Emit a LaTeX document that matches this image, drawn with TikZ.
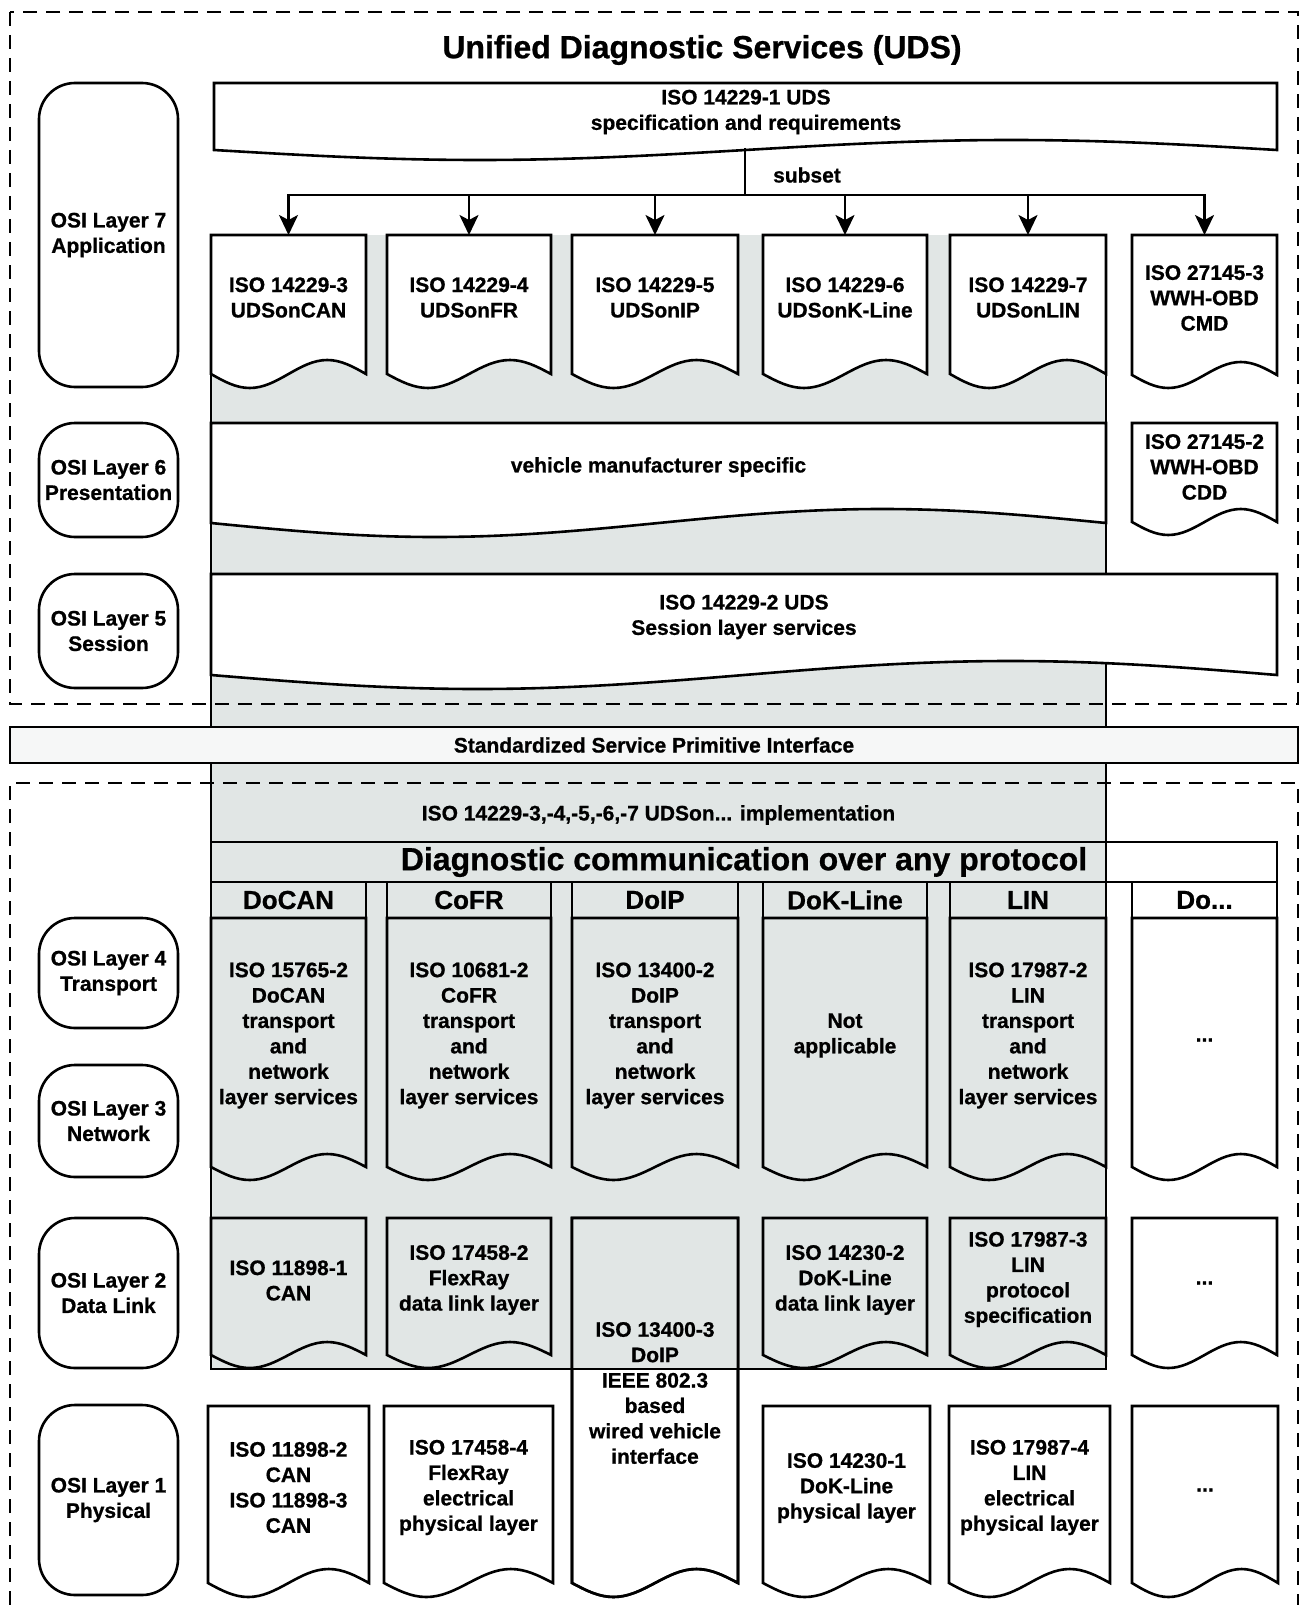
\documentclass[tikz,border=0pt]{standalone}
\usepackage{fontspec}
\setmainfont{Liberation Sans}[BoldFeatures={FakeBold=0.8}]
\usetikzlibrary{arrows.meta, positioning}

\definecolor{udsgrey}{HTML}{E1E6E5}
\definecolor{bandgrey}{HTML}{F6F7F7}

\newcommand{\udsfont}{\fontsize{21}{25.4}\selectfont\bfseries}

% document shape with wavy bottom: style, x1, x2, top, side end, amplitude
\newcommand{\udsdoc}[6]{%
  \draw[#1] (#2,#4) -- (#2,#5)
    sin ({#2+(#3-#2)/4},{#5+#6}) cos ({(#2+#3)/2},#5)
    sin ({#2+3*(#3-#2)/4},{#5-#6}) cos (#3,#5) -- (#3,#4) -- cycle;
}

\tikzset{
  bline/.style={line width=2.6pt},
  whitedoc/.style={bline, fill=white},
  greydoc/.style={bline, fill=udsgrey},
  osibox/.style={draw, line width=2.6pt, rounded corners=36pt, align=center, inner sep=0pt, font=\udsfont},
  frameline/.style={line width=1.6pt, dash pattern=on 14pt off 9pt},
  bodytxt/.style={font=\udsfont, align=center, inner sep=0pt},
  headtxt/.style={font=\fontsize{26}{30}\selectfont\bfseries, inner sep=0pt},
  bigtxt/.style={font=\fontsize{32}{36}\selectfont\bfseries, inner sep=0pt},
  subarrow/.style={line width=2.4pt, -{Stealth[length=20pt, width=19pt, inset=5pt]}},
}

\begin{document}
\begin{tikzpicture}[x=1pt, y=-1pt]
  \useasboundingbox (0,0) rectangle (1301,1605);

  % grey area behind the UDSon... stack
  \fill[udsgrey] (211,235) rectangle (1106,1369);
  \draw[bline] (211,235) -- (211,1369) -- (1106,1369) -- (1106,235);

  % dashed frames
  \draw[frameline] (10,12) rectangle (1298,704);
  \draw[frameline] (10,1605) -- (10,783) -- (1298,783) -- (1298,1605);

  \node[bigtxt] (title) at (702,50) {Unified Diagnostic Services (UDS)};

  % ISO 14229-1
  \udsdoc{whitedoc}{214}{1277}{83}{150}{10}
  \node[bodytxt] (spec) at (746,112) {ISO 14229-1 UDS\\specification and requirements};

  % subset arrows
  \coordinate (stem) at (745,148);
  \coordinate (bus) at (745,195);
  \coordinate (bus-can) at (288.5,195);
  \coordinate (bus-fr) at (469,195);
  \coordinate (bus-ip) at (655,195);
  \coordinate (bus-kl) at (845,195);
  \coordinate (bus-lin) at (1028,195);
  \coordinate (bus-obd) at (1204.5,195);
  \coordinate (top-can) at (288.5,235);
  \coordinate (top-fr) at (469,235);
  \coordinate (top-ip) at (655,235);
  \coordinate (top-kl) at (845,235);
  \coordinate (top-lin) at (1028,235);
  \coordinate (top-obd) at (1204.5,235);
  \draw[bline] (stem) -- (bus);
  \draw[bline, line cap=rect] (bus-can) -- (bus-obd);
  \draw[subarrow] (bus-can) -- (top-can);
  \draw[subarrow] (bus-fr) -- (top-fr);
  \draw[subarrow] (bus-ip) -- (top-ip);
  \draw[subarrow] (bus-kl) -- (top-kl);
  \draw[subarrow] (bus-lin) -- (top-lin);
  \draw[subarrow] (bus-obd) -- (top-obd);
  \node[bodytxt] (subset) at (807,175) {subset};

  % layer 7
  \udsdoc{whitedoc}{211}{366}{235}{374}{14}
  \udsdoc{whitedoc}{387}{551}{235}{374}{14}
  \udsdoc{whitedoc}{572}{738}{235}{374}{14}
  \udsdoc{whitedoc}{763}{927}{235}{374}{14}
  \udsdoc{whitedoc}{950}{1106}{235}{374}{14}
  \udsdoc{whitedoc}{1132}{1277}{235}{375}{13}
  \node[bodytxt] (can7) at (288.5,297.5) {ISO 14229-3\\UDSonCAN};
  \node[bodytxt] (fr7) at (469,297.5) {ISO 14229-4\\UDSonFR};
  \node[bodytxt] (ip7) at (655,297.5) {ISO 14229-5\\UDSonIP};
  \node[bodytxt] (kl7) at (845,297.5) {ISO 14229-6\\UDSonK-Line};
  \node[bodytxt] (lin7) at (1028,297.5) {ISO 14229-7\\UDSonLIN};
  \node[bodytxt] (obd7) at (1204.5,298) {ISO 27145-3\\WWH-OBD\\CMD};

  % layer 6
  \udsdoc{whitedoc}{211}{1106}{423}{523}{14}
  \udsdoc{whitedoc}{1132}{1277}{423}{522}{13}
  \node[bodytxt] (vms) at (658.5,467) {vehicle manufacturer specific};
  \node[bodytxt] (obd6) at (1204.5,467) {ISO 27145-2\\WWH-OBD\\CDD};

  % layer 5
  \udsdoc{whitedoc}{211}{1277}{574}{675}{14}
  \node[bodytxt] (sess) at (744,617) {ISO 14229-2 UDS\\Session layer services};

  % service primitive interface
  \draw[line width=2.2pt, fill=bandgrey] (10,727) rectangle (1298,763);
  \node[bodytxt] (sspi) at (654,745) {Standardized Service Primitive Interface};

  \node[bodytxt] (impl) at (658.5,815) {ISO 14229-3,-4,-5,-6,-7 UDSon... implementation};

  % diagnostic communication bar
  \draw[bline, fill=white] (1106,842) rectangle (1277,882);
  \draw[bline] (211,842) rectangle (1277,882);
  \node[bigtxt] (doap) at (744,862) {Diagnostic communication over any protocol};

  % protocol heads
  \draw[greydoc] (211,882) rectangle (366,918);
  \draw[greydoc] (387,882) rectangle (551,918);
  \draw[greydoc] (572,882) rectangle (738,918);
  \draw[greydoc] (763,882) rectangle (927,918);
  \draw[greydoc] (950,882) rectangle (1106,918);
  \draw[whitedoc] (1132,882) rectangle (1277,918);
  \node[headtxt] (docan) at (288.5,900) {DoCAN};
  \node[headtxt] (cofr) at (469,900) {CoFR};
  \node[headtxt] (doip) at (655,900) {DoIP};
  \node[headtxt] (dokl) at (845,900) {DoK-Line};
  \node[headtxt] (lin) at (1028,900) {LIN};
  \node[headtxt] (doany) at (1204.5,900) {Do...};

  % layer 4 and 3
  \udsdoc{greydoc}{211}{366}{918}{1167}{13}
  \udsdoc{greydoc}{387}{551}{918}{1167}{13}
  \udsdoc{greydoc}{572}{738}{918}{1167}{13}
  \udsdoc{greydoc}{763}{927}{918}{1167}{13}
  \udsdoc{greydoc}{950}{1106}{918}{1167}{13}
  \udsdoc{whitedoc}{1132}{1277}{918}{1167}{13}
  \node[bodytxt] (can4) at (288.5,1035.5) {ISO 15765-2\\DoCAN\\transport\\and\\network\\layer services};
  \node[bodytxt] (fr4) at (469,1035.5) {ISO 10681-2\\CoFR\\transport\\and\\network\\layer services};
  \node[bodytxt] (ip4) at (655,1035.5) {ISO 13400-2\\DoIP\\transport\\and\\network\\layer services};
  \node[bodytxt] (kl4) at (845,1035.5) {Not\\applicable};
  \node[bodytxt] (lin4) at (1028,1035.5) {ISO 17987-2\\LIN\\transport\\and\\network\\layer services};
  \node[bodytxt] (obd4) at (1204.5,1040) {...};

  % layer 2
  \udsdoc{greydoc}{211}{366}{1218}{1355}{13}
  \udsdoc{greydoc}{387}{551}{1218}{1355}{13}
  \udsdoc{whitedoc}{572}{738}{1218}{1583}{14}
  \fill[udsgrey] (573.3,1219.3) rectangle (736.7,1369);
  \udsdoc{bline}{572}{738}{1218}{1583}{14}
  \udsdoc{greydoc}{763}{927}{1218}{1355}{13}
  \udsdoc{greydoc}{950}{1106}{1218}{1355}{13}
  \udsdoc{whitedoc}{1132}{1277}{1218}{1355}{13}
  \draw[bline] (211,1369) -- (1106,1369);
  \node[bodytxt] (can2) at (288.5,1280.5) {ISO 11898-1\\CAN};
  \node[bodytxt] (fr2) at (469,1280) {ISO 17458-2\\FlexRay\\data link layer};
  \node[bodytxt] (ip2) at (655,1393) {ISO 13400-3\\DoIP\\IEEE 802.3\\based\\wired vehicle\\interface};
  \node[bodytxt] (kl2) at (845,1280) {ISO 14230-2\\DoK-Line\\data link layer};
  \node[bodytxt] (lin2) at (1028,1279.5) {ISO 17987-3\\LIN\\protocol\\specification};
  \node[bodytxt] (obd2) at (1204.5,1283) {...};

  % layer 1
  \udsdoc{whitedoc}{208}{369}{1406}{1583}{14}
  \udsdoc{whitedoc}{384}{553}{1406}{1583}{14}
  \udsdoc{whitedoc}{763}{930}{1406}{1583}{14}
  \udsdoc{whitedoc}{949}{1110}{1406}{1583}{14}
  \udsdoc{whitedoc}{1132}{1278}{1406}{1583}{14}
  \node[bodytxt] (can1) at (288.5,1487.5) {ISO 11898-2\\CAN\\ISO 11898-3\\CAN};
  \node[bodytxt] (fr1) at (468.5,1487.5) {ISO 17458-4\\FlexRay\\electrical\\physical layer};
  \node[bodytxt] (kl1) at (846.5,1488) {ISO 14230-1\\DoK-Line\\physical layer};
  \node[bodytxt] (lin1) at (1029.5,1487.5) {ISO 17987-4\\LIN\\electrical\\physical layer};
  \node[bodytxt] (obd1) at (1205,1490) {...};

  % OSI layers
  \node[osibox, minimum width=139pt, minimum height=304pt] (osi7) at (108.5,235) {OSI Layer 7\\Application};
  \node[osibox, minimum width=139pt, minimum height=114pt] (osi6) at (108.5,480) {OSI Layer 6\\Presentation};
  \node[osibox, minimum width=139pt, minimum height=114pt] (osi5) at (108.5,631) {OSI Layer 5\\Session};
  \node[osibox, minimum width=139pt, minimum height=110pt] (osi4) at (108.5,973) {OSI Layer 4\\Transport};
  \node[osibox, minimum width=139pt, minimum height=112pt] (osi3) at (108.5,1121) {OSI Layer 3\\Network};
  \node[osibox, minimum width=139pt, minimum height=150pt] (osi2) at (108.5,1293) {OSI Layer 2\\Data Link};
  \node[osibox, minimum width=139pt, minimum height=190pt] (osi1) at (108.5,1500) {OSI Layer 1\\Physical};
\end{tikzpicture}
\end{document}
